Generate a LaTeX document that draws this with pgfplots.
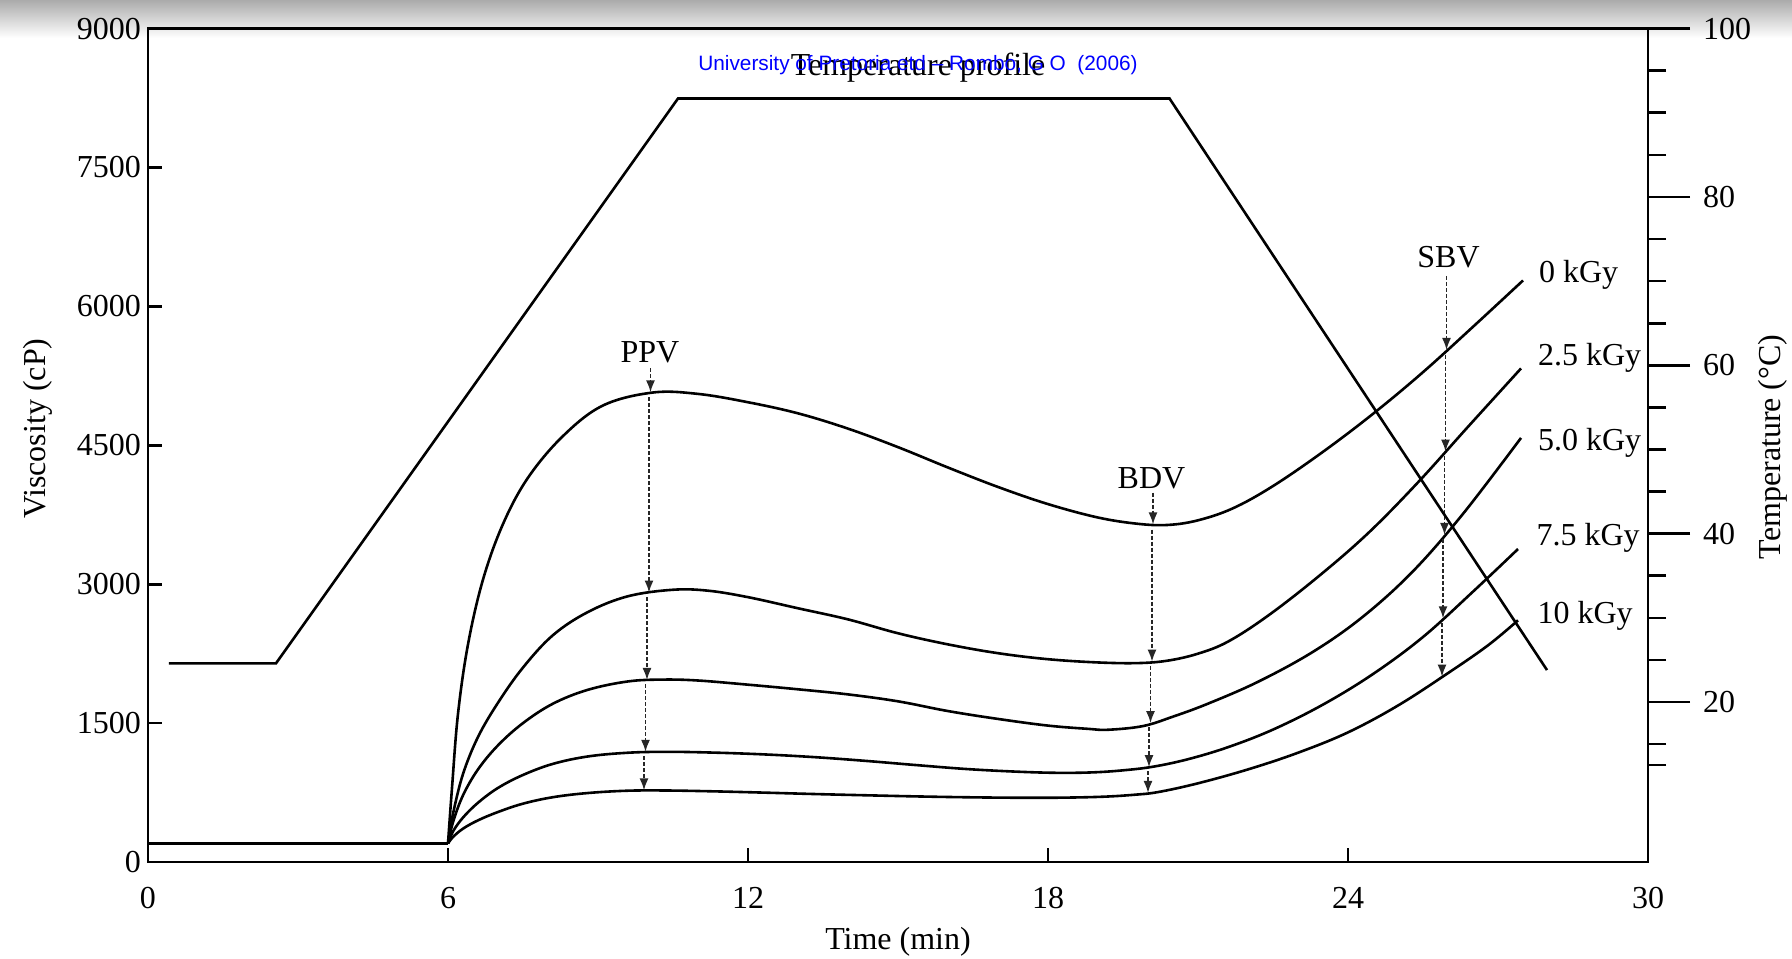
\documentclass[border=0pt]{standalone}
\usepackage{fontspec}
\setmainfont{Liberation Serif}
\newfontfamily\arialfont{Liberation Sans}
\usepackage{pgfplots}
\pgfplotsset{compat=1.18}
\usetikzlibrary{arrows.meta}

\pgfplotsset{
  arr/.style={line width=0.8pt, dash pattern=on 2pt off 1pt, black!85,
              -{Latex[length=6pt,width=4.5pt]}},
  crv/.style={line width=1.3pt, black, smooth, tension=0.6},
}

\begin{document}
\begin{tikzpicture}
\useasboundingbox (-74pt,-48pt) rectangle (822pt,431pt);
\shade[top color=black!33, bottom color=white] (-74pt,431pt) rectangle (822pt,412pt);

\begin{axis}[
  at={(0pt,0pt)}, anchor=south west,
  scale only axis, width=750pt, height=416.7pt,
  xmin=0, xmax=30, ymin=0, ymax=9000,
  xtick={0,6,12,18,24,30},
  ytick={0,1500,3000,4500,6000,7500,9000},
  xtick pos=left, ytick pos=left,
  tick align=inside,
  major tick length=7pt,
  every tick/.style={black, line width=1.3pt},
  axis line style={line width=1.4pt},
  tick label style={font=\fontsize{16}{19}\selectfont},
  /pgf/number format/assume math mode=true,
  yticklabel style={/pgf/number format/1000 sep={}},
  scaled y ticks=false,
  xticklabel style={yshift=-9pt},
  label style={font=\fontsize{16}{19}\selectfont},
  xlabel={Time (min)}, ylabel={Viscosity (cP)},
  xlabel style={at={(axis description cs:0.5,-0.096)}, anchor=center},
  ylabel style={at={(axis description cs:-0.0733,0.52)}, anchor=center},
  clip=false,
]
% baseline before heating
\addplot[line width=1.3pt] coordinates {(0,200) (6,200)};

% 0 kGy
\addplot[crv] coordinates {
(6,200) (6.08,800) (6.2,1600) (6.4,2350) (6.7,3050) (7.1,3650) (7.6,4150)
(8.3,4600) (9.1,4930) (10.1,5070) (11.0,5055) (12.0,4965) (13.0,4845)
(14.0,4680) (15.0,4480) (16.0,4260) (17.0,4050) (18.0,3865) (19.0,3720)
(19.8,3652) (20.4,3640) (21.0,3690) (21.7,3820) (22.5,4060) (23.5,4430)
(24.5,4840) (25.5,5290) (26.5,5780) (27.5,6280)};

% 2.5 kGy
\addplot[crv] coordinates {
(6,200) (6.1,520) (6.3,950) (6.6,1350) (7.0,1720) (7.5,2100) (8.1,2450)
(8.8,2700) (9.6,2870) (10.5,2940) (11.2,2930) (12.0,2860) (13.0,2740)
(14.0,2620) (15.0,2470) (16.0,2350) (17.0,2255) (18.0,2190) (19.0,2155)
(19.8,2148) (20.4,2175) (21.0,2250) (21.6,2380) (22.4,2660) (23.4,3080)
(24.4,3550) (25.4,4100) (26.4,4700) (27.46,5330)};

% 5.0 kGy
\addplot[crv] coordinates {
(6,200) (6.1,430) (6.3,720) (6.6,1000) (7.0,1260) (7.5,1500) (8.1,1710)
(8.8,1860) (9.6,1950) (10.3,1970) (11.0,1960) (12.0,1915) (13.0,1865)
(14.0,1810) (15.0,1735) (16.0,1630) (17.0,1545) (18.0,1473) (18.8,1438)
(19.2,1428) (19.9,1468) (20.5,1570) (21.2,1710) (22.2,1946) (23.3,2270)
(24.3,2650) (25.3,3140) (26.3,3760) (27.46,4580)};

% 7.5 kGy
\addplot[crv] coordinates {
(6,200) (6.1,330) (6.3,480) (6.6,640) (7.0,800) (7.5,940) (8.1,1060)
(8.8,1140) (9.6,1180) (10.4,1190) (11.4,1180) (12.4,1160) (13.4,1130)
(14.4,1090) (15.4,1045) (16.4,1003) (17.4,975) (18.2,963) (18.9,968)
(19.5,990) (20.1,1029) (20.8,1110) (21.6,1240) (22.5,1430) (23.5,1700)
(24.5,2030) (25.5,2430) (26.5,2920) (27.4,3380)};

% 10 kGy
\addplot[crv] coordinates {
(6,200) (6.1,270) (6.3,360) (6.6,450) (7.0,540) (7.5,630) (8.1,700)
(8.8,745) (9.6,770) (10.4,772) (11.4,762) (12.4,748) (13.4,733)
(14.4,720) (15.4,708) (16.4,699) (17.4,694) (18.3,695) (19.1,705)
(19.7,725) (20.2,755) (21.0,850) (22.0,1000) (23.0,1180) (24.0,1400)
(25.0,1690) (26.0,2040) (26.8,2340) (27.4,2610)};

% PPV arrows
\addplot[arr] coordinates {(10.05,5330) (10.05,5072)};
\addplot[arr] coordinates {(10.02,5020) (10.02,2910)};
\addplot[arr] coordinates {(9.98,2860) (9.98,1966)};
\addplot[arr] coordinates {(9.95,1920) (9.95,1190)};
\addplot[arr] coordinates {(9.92,1145) (9.92,774)};
% BDV arrows
\addplot[arr] coordinates {(20.1,3990) (20.1,3646)};
\addplot[arr] coordinates {(20.08,3590) (20.08,2164)};
\addplot[arr] coordinates {(20.05,2120) (20.05,1500)};
\addplot[arr] coordinates {(20.02,1455) (20.02,1024)};
\addplot[arr] coordinates {(20.0,980) (20.0,746)};
% SBV arrows
\addplot[arr] coordinates {(25.97,6330) (25.97,5530)};
\addplot[arr] coordinates {(25.95,5480) (25.95,4432)};
\addplot[arr] coordinates {(25.93,4385) (25.93,3532)};
\addplot[arr] coordinates {(25.9,3485) (25.9,2632)};
\addplot[arr] coordinates {(25.88,2585) (25.88,2002)};

\node[font=\fontsize{16}{19}\selectfont] at (axis cs:10.04,5510) {PPV};
\node[font=\fontsize{16}{19}\selectfont] at (axis cs:20.07,4141) {BDV};
\node[font=\fontsize{16}{19}\selectfont] at (axis cs:26.01,6530) {SBV};

\node[font=\fontsize{16}{19}\selectfont, anchor=west] at (axis cs:27.68,6344) {0 kGy};
\node[font=\fontsize{16}{19}\selectfont, anchor=west] at (axis cs:27.66,5441) {2.5 kGy};
\node[font=\fontsize{16}{19}\selectfont, anchor=west] at (axis cs:27.66,4524) {5.0 kGy};
\node[font=\fontsize{16}{19}\selectfont, anchor=west] at (axis cs:27.63,3497) {7.5 kGy};
\node[font=\fontsize{16}{19}\selectfont, anchor=west] at (axis cs:27.65,2656) {10 kGy};

\node[font=\fontsize{16}{19}\selectfont] at (axis cs:15.4,8580) {Temperature profile};
\node[font=\arialfont\fontsize{10.4}{12}\selectfont, text={rgb,255:red,0;green,0;blue,255}] at (axis cs:15.4,8610) {University of Pretoria etd – Rombo, G O\ \ (2006)};
\end{axis}

\begin{axis}[
  at={(0pt,0pt)}, anchor=south west,
  scale only axis, width=750pt, height=416.7pt,
  xmin=0, xmax=30, ymin=1, ymax=100,
  axis x line=none, axis y line*=right,
  ytick={20,40,60,80,100},
  minor ytick={12.5,15,25,30,35,45,50,55,65,70,75,85,90,95},
  tick align=outside,
  major tick length=21pt, minor tick length=9pt,
  every tick/.style={black, line width=1.3pt},
  axis line style={line width=1.4pt},
  tick label style={font=\fontsize{16}{19}\selectfont},
  /pgf/number format/assume math mode=true,
  yticklabel style={xshift=3pt},
  label style={font=\fontsize{16}{19}\selectfont},
  ylabel={Temperature (°C)},
  ylabel style={at={(axis description cs:1.083,0.498)}, anchor=center},
  clip=false,
]
\addplot[line width=1.3pt] coordinates {(0.42,24.6) (2.56,24.6) (10.6,91.7) (20.43,91.7) (27.98,23.8)};
\end{axis}
\end{tikzpicture}
\end{document}
